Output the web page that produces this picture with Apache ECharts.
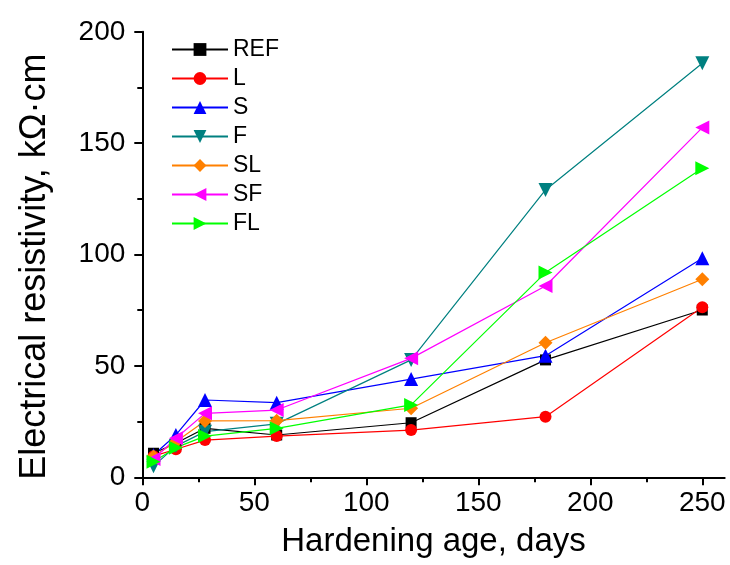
<!DOCTYPE html>
<html>
<head>
<meta charset="utf-8">
<script src="https://cdn.jsdelivr.net/npm/echarts@6/dist/echarts.min.js"></script>
<style>html,body{margin:0;padding:0;background:#fff;}#c{width:730px;height:565px;}</style>
</head>
<body>
<div id="c"></div>
<script>
const days = [5, 15, 28, 60, 120, 180, 250];
const REF = [10.8, 15.3, 22.0, 19.0, 24.5, 52.7, 75.1];
const L   = [9.5, 12.6, 16.7, 18.5, 21.2, 27.2, 76.3];
const S   = [10.0, 19.0, 34.7, 33.5, 44.1, 54.6, 98.3];
const F   = [5.0, 14.0, 20.5, 24.0, 52.7, 129.0, 185.9];
const SL  = [9.3, 16.0, 25.3, 25.4, 31.0, 60.4, 88.9];
const SF  = [8.2, 17.5, 28.7, 30.2, 53.4, 85.9, 157.0];
const FL  = [7.0, 13.3, 18.5, 22.0, 32.5, 91.9, 138.7];
const xTicks = [0, 50, 100, 150, 200, 250];
const xMinorTicks = [25, 75, 125, 175, 225];

const FONT = '"Liberation Sans", Arial, sans-serif';
function pts(arr){ return days.map((d,i)=>[d, arr[i]]); }
function ser(name, arr, color, symbol, rot, size){
  return {
    name, type:'line', data: pts(arr), symbol, symbolRotate: rot || 0,
    symbolSize: size || 13, showSymbol: true,
    lineStyle:{color, width:1.2}, itemStyle:{color},
    emphasis:{disabled:true}, animation:false
  };
}
const chart = echarts.init(document.getElementById('c'));
chart.setOption({
  animation:false,
  grid:{left:142.3, right:5.3, top:31.8, bottom:87.7, containLabel:false},
  legend:{
    orient:'vertical', left:166, top:33, itemWidth:56, itemHeight:16, itemGap:6,
    textStyle:{fontFamily:FONT, fontSize:23, color:'#000'},
    data:['REF','L','S','F','SL','SF','FL']
  },
  xAxis:[{
    type:'value', min:0, max:260, interval:50, position:'bottom',
    name:'Hardening age, days', nameLocation:'middle', nameGap:48,
    nameTextStyle:{fontFamily:FONT, fontSize:33, color:'#000'},
    axisLine:{show:true, lineStyle:{color:'#000', width:2}},
    axisTick:{show:true, inside:false, length:8, lineStyle:{color:'#000', width:2}, customValues:xTicks},
    axisLabel:{fontFamily:FONT, fontSize:28, color:'#000', margin:12, customValues:xTicks},
    splitLine:{show:false}
  },{
    type:'value', min:0, max:260, position:'bottom', offset:0,
    axisLine:{show:false},
    axisTick:{show:true, inside:false, length:5, lineStyle:{color:'#000', width:2}, customValues:xMinorTicks},
    axisLabel:{show:false},
    splitLine:{show:false}
  }],
  yAxis:{
    type:'value', min:0, max:200, interval:50,
    name:'Electrical resistivity, kΩ·cm', nameLocation:'middle', nameGap:89,
    nameTextStyle:{fontFamily:FONT, fontSize:36, color:'#000', padding:[0, 24, 0, 0]},
    axisLine:{show:true, lineStyle:{color:'#000', width:2}},
    axisTick:{show:true, inside:false, length:8, lineStyle:{color:'#000', width:2}},
    minorTick:{show:true, splitNumber:2, length:5, lineStyle:{color:'#000', width:2}},
    axisLabel:{fontFamily:FONT, fontSize:28, color:'#000', margin:17},
    splitLine:{show:false}
  },
  series:[
    ser('REF', REF, '#000000', 'rect', 0, 11),
    ser('L', L, '#ff0000', 'circle', 0, 12),
    ser('S', S, '#0000ff', 'triangle', 0, 14),
    ser('F', F, '#008080', 'triangle', 180, 14),
    ser('SL', SL, '#ff8000', 'diamond', 0, 14),
    ser('SF', SF, '#ff00ff', 'triangle', 90, 14),
    ser('FL', FL, '#00ff00', 'triangle', -90, 14)
  ]
});
</script>
</body>
</html>
